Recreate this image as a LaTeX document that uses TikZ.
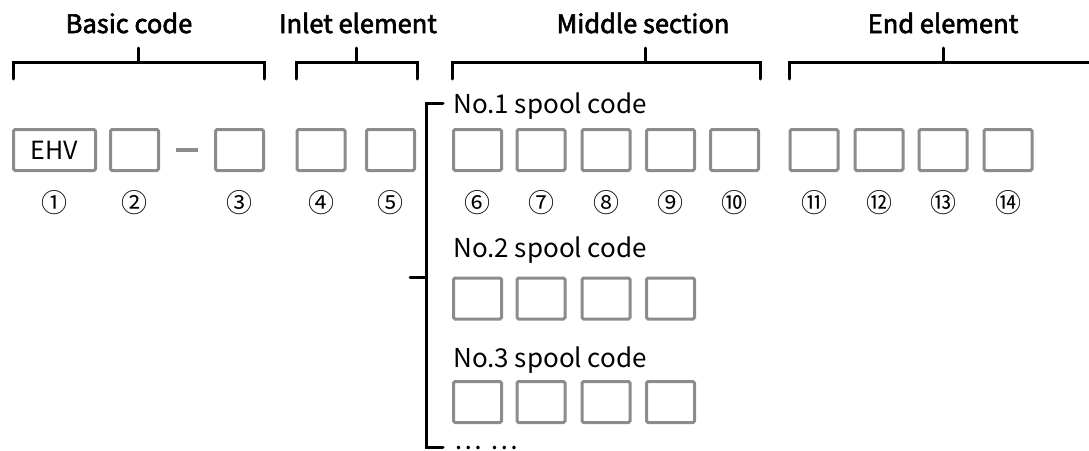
\documentclass[tikz,border=0pt]{standalone}
\usepackage{fontspec}
\setmainfont{Noto Sans CJK SC}
\usetikzlibrary{positioning,calc}
\definecolor{cellgray}{HTML}{8C8C8C}
\newcommand\heavytext[1]{\special{pdf:literal direct 2 Tr 0.6 w}#1\special{pdf:literal direct 0 Tr}}
\tikzset{
  cell/.style={draw=cellgray, line width=3pt, rounded corners=1.5pt,
    minimum width=48pt, minimum height=41pt, inner sep=0pt,
    font=\fontsize{25}{25}\selectfont},
  num/.style={font=\fontsize{26}{26}\selectfont, inner sep=0pt},
  head/.style={font=\fontsize{25.5}{25.5}\selectfont, anchor=base, inner sep=0pt},
  lbl/.style={font=\fontsize{26}{26}\selectfont, anchor=base west, inner sep=0pt},
  brk/.style={line width=3pt, line cap=round}
}
\begin{document}
\begin{tikzpicture}[x=1pt,y=-1pt]
\useasboundingbox (0,0) rectangle (1089,450);
% headings
\node[head] (t1) at (129,33) {\heavytext{Basic code}};
\node[head] (t2) at (358,33) {\heavytext{Inlet element}};
\node[head] (t3) at (643,33) {\heavytext{Middle section}};
\node[head] (t4) at (943,33) {\heavytext{End element}};
% brackets
\draw[brk] (13,79) -- (13,62) -- (264,62) -- (264,79);
\draw[brk] (138,62) -- (138,48);
\draw[brk] (296,79) -- (296,62) -- (417,62) -- (417,79);
\draw[brk] (356,62) -- (356,48);
\draw[brk] (452,79) -- (452,62) -- (760,62) -- (760,79);
\draw[brk] (645,62) -- (645,48);
\draw[brk] (789,79) -- (789,62) -- (1092,62);
\draw[brk] (943,62) -- (943,48);
% code row
\node[cell, minimum width=82pt] (c1) at (54.5,150) {EHV};
\foreach \x [count=\i from 2] in {134.5,239.5,321,390.5,477.5,541,606,670.5,734.5,814,879,943,1008}
  \node[cell] (c\i) at (\x,150) {};
\draw[cellgray, line width=4pt] ($(c2.east)+(16,0)$) -- ($(c3.west)+(-16,0)$);
\foreach \c [count=\i] in {①,②,③,④,⑤,⑥,⑦,⑧,⑨,⑩,⑪,⑫,⑬,⑭}
  \node[num] (n\i) at (c\i |- 0,203) {\c};
% spool codes
\draw[brk] (443,103) -- (426,103) -- (426,447) -- (443,447);
\draw[brk] (410,277) -- (426,277);
\node[lbl] (s1) at (453,113) {No.1 spool code};
\node[lbl] (s2) at (453,257) {No.2 spool code};
\node[lbl] (s3) at (453,367) {No.3 spool code};
\node[lbl] (s4) at (454,449) {…\hspace{9pt}…};
\foreach \x [count=\i] in {477.5,541,606,670.5} {
  \node[cell] (p\i) at (\x,298.5) {};
  \node[cell] (q\i) at (\x,402) {};
}
\end{tikzpicture}
\end{document}
